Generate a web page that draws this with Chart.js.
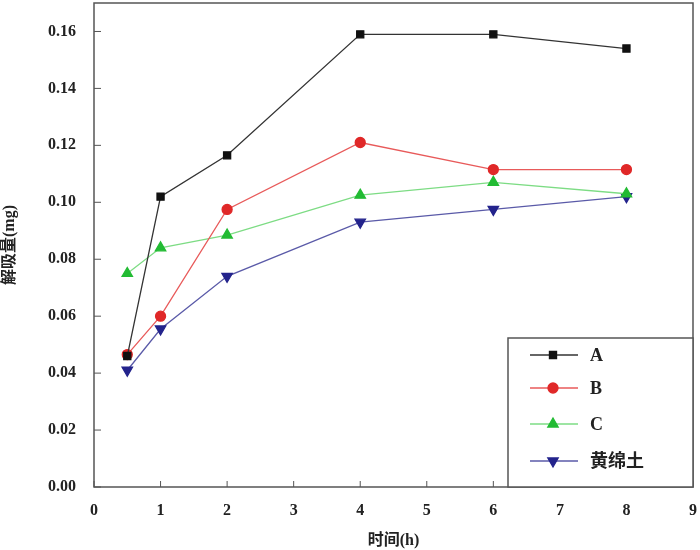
<!DOCTYPE html>
<html><head><meta charset="utf-8">
<script src="https://cdn.jsdelivr.net/npm/chart.js@4"></script>
<style>html,body{margin:0;padding:0;background:#fff}#c{display:block}</style>
</head><body>
<canvas id="c" width="700" height="550"></canvas>
<script>
const times = [0.5, 1, 2, 4, 6, 8];
const seriesA = [0.046, 0.102, 0.1165, 0.159, 0.159, 0.154];
const seriesB = [0.0465, 0.060, 0.0975, 0.121, 0.1115, 0.1115];
const seriesC = [0.075, 0.0840, 0.0885, 0.1025, 0.1070, 0.1030];
const seriesD = [0.041, 0.0555, 0.0740, 0.0930, 0.0975, 0.1020];
const seriesNames = ['A', 'B', 'C', '黄绵土'];
const xTicks = [0,1,2,3,4,5,6,7,8,9];
const yTicks = [0,0.02,0.04,0.06,0.08,0.10,0.12,0.14,0.16];
const xTitle = '时间(h)';
const yTitle = '解吸量(mg)';

const colors = ['#111111', '#e02828', '#22bb33', '#23238c'];
const lineColors = ['#333333', '#e85a5a', '#7ddc84', '#5a5aa8'];
const styles = ['rect', 'circle', 'triangle', 'triangle'];
const rotations = [0, 0, 0, 180];
const radii = [5, 5, 6, 6];
const allSeries = [seriesA, seriesB, seriesC, seriesD];
const FONT = '"Liberation Serif", "Noto Sans CJK SC", serif';

const datasets = allSeries.map((s, i) => ({
  label: seriesNames[i],
  data: times.map((t, j) => ({x: t, y: s[j]})),
  borderColor: lineColors[i],
  backgroundColor: colors[i],
  pointBackgroundColor: colors[i],
  pointBorderColor: colors[i],
  borderWidth: 1.3,
  pointStyle: styles[i],
  rotation: rotations[i],
  pointRadius: radii[i],
  tension: 0
}));

const framePlugin = {
  id: 'frame',
  afterDatasetsDraw(chart) {
    const {ctx, chartArea: a, scales} = chart;
    ctx.save();
    ctx.strokeStyle = '#555';
    ctx.lineWidth = 1.5;
    ctx.strokeRect(a.left, a.top, a.right - a.left, a.bottom - a.top);
    ctx.lineWidth = 1;
    xTicks.forEach(v => {
      const px = scales.x.getPixelForValue(v);
      ctx.beginPath(); ctx.moveTo(px, a.bottom); ctx.lineTo(px, a.bottom - 6); ctx.stroke();
    });
    yTicks.forEach(v => {
      const py = scales.y.getPixelForValue(v);
      ctx.beginPath(); ctx.moveTo(a.left, py); ctx.lineTo(a.left + 7, py); ctx.stroke();
    });
    const lx = 508, ly = 338, lw = a.right - 508, lh = a.bottom - 338;
    ctx.fillStyle = '#fff';
    ctx.fillRect(lx, ly, lw, lh);
    ctx.strokeStyle = '#555';
    ctx.lineWidth = 1.5;
    ctx.strokeRect(lx, ly, lw, lh);
    const rows = [355, 388, 424, 461];
    rows.forEach((ry, i) => {
      ctx.strokeStyle = lineColors[i];
      ctx.lineWidth = 1.3;
      ctx.beginPath(); ctx.moveTo(530, ry); ctx.lineTo(578, ry); ctx.stroke();
      ctx.fillStyle = colors[i];
      ctx.strokeStyle = colors[i];
      Chart.helpers.drawPoint(ctx, {pointStyle: styles[i], rotation: rotations[i], radius: radii[i], borderWidth: 1}, 553, ry);
      ctx.fillStyle = '#222';
      ctx.font = 'bold 18px ' + FONT;
      ctx.textBaseline = 'middle';
      ctx.textAlign = 'left';
      ctx.fillText(seriesNames[i], 590, ry + 1);
    });
    ctx.restore();
  }
};

new Chart(document.getElementById('c'), {
  type: 'line',
  data: { datasets },
  options: {
    responsive: false,
    animation: false,
    layout: { autoPadding: false, padding: { top: 3, right: 7, left: 0, bottom: 0 } },
    plugins: { legend: { display: false }, tooltip: { enabled: false } },
    scales: {
      x: {
        type: 'linear', min: 0, max: 9,
        grid: { display: false },
        border: { display: false },
        afterBuildTicks(ax) { ax.ticks = xTicks.map(v => ({value: v})); },
        afterFit(ax) { ax.height = 63; ax.paddingLeft = 0; ax.paddingRight = 0; },
        ticks: { color: '#222', padding: 6, font: { family: FONT, size: 16, weight: 'bold' }, maxRotation: 0,
          callback: v => String(v) },
        title: { display: true, text: xTitle, color: '#222', padding: {top: 2, bottom: 0}, font: { family: FONT, size: 16, weight: 'bold' } }
      },
      y: {
        type: 'linear', min: 0, max: 0.17,
        grid: { display: false },
        border: { display: false },
        afterBuildTicks(ax) { ax.ticks = yTicks.map(v => ({value: v})); },
        afterFit(ax) { ax.width = 94; ax.paddingTop = 0; ax.paddingBottom = 0; },
        ticks: { color: '#222', padding: 10, font: { family: FONT, size: 16, weight: 'bold' },
          callback: v => Number(v).toFixed(2) },
        title: { display: true, text: yTitle, color: '#222', padding: {top: 0, bottom: 4}, font: { family: FONT, size: 16, weight: 'bold' } }
      }
    }
  },
  plugins: [framePlugin]
});
</script>
</body></html>
